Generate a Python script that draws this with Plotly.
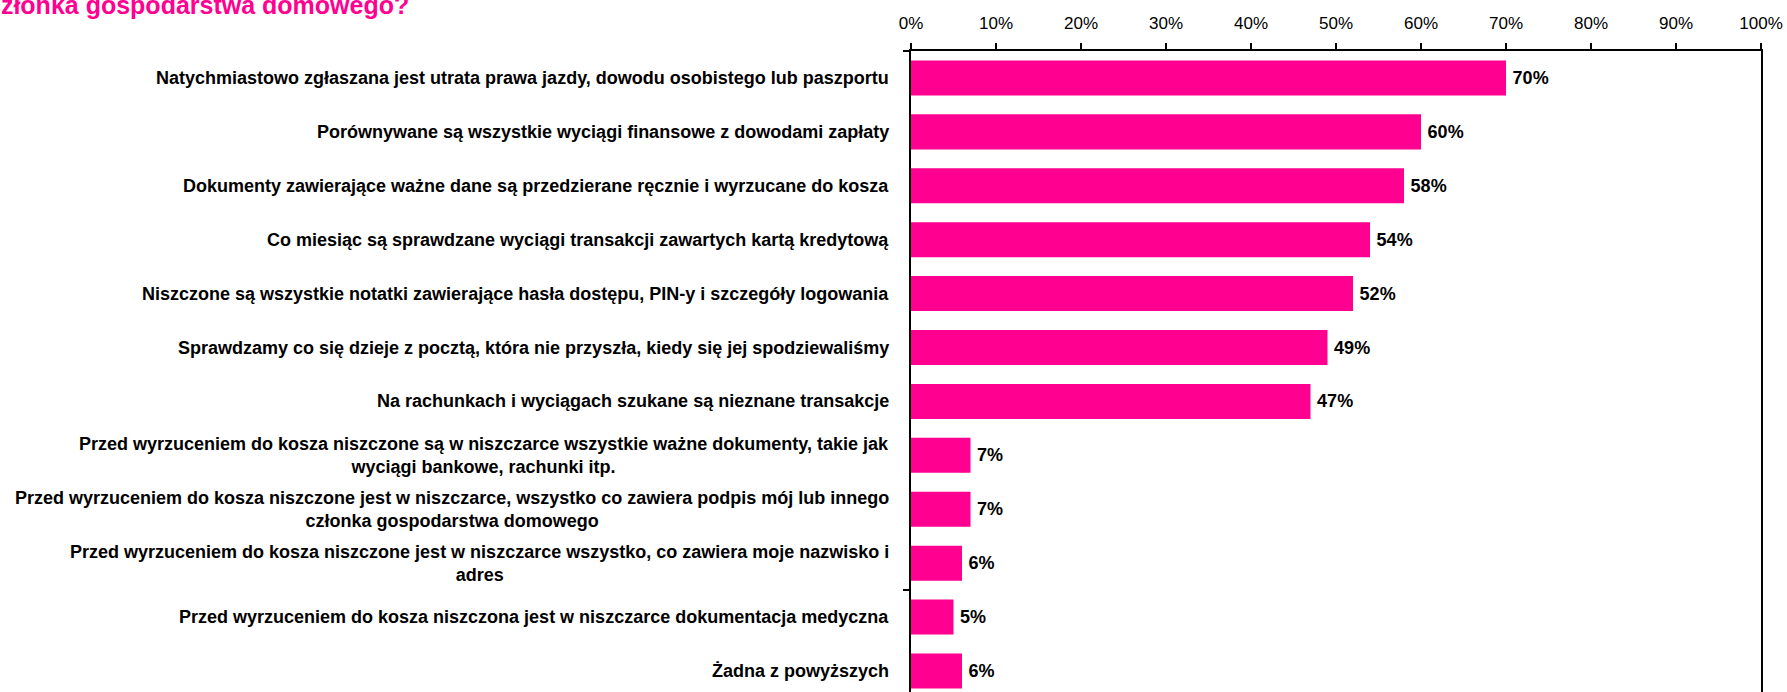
import plotly.graph_objects as go

categories = [
    "Natychmiastowo zgłaszana jest utrata prawa jazdy, dowodu osobistego lub paszportu",
    "Porównywane są wszystkie wyciągi finansowe z dowodami zapłaty",
    "Dokumenty zawierające ważne dane są przedzierane ręcznie i wyrzucane do kosza",
    "Co miesiąc są sprawdzane wyciągi transakcji zawartych kartą kredytową",
    "Niszczone są wszystkie notatki zawierające hasła dostępu, PIN-y i szczegóły logowania",
    "Sprawdzamy co się dzieje z pocztą, która nie przyszła, kiedy się jej spodziewaliśmy",
    "Na rachunkach i wyciągach szukane są nieznane transakcje",
    "Przed wyrzuceniem do kosza niszczone są w niszczarce wszystkie ważne dokumenty, takie jak<br>wyciągi bankowe, rachunki itp.",
    "Przed wyrzuceniem do kosza niszczone jest w niszczarce, wszystko co zawiera podpis mój lub innego<br>członka gospodarstwa domowego",
    "Przed wyrzuceniem do kosza niszczone jest w niszczarce wszystko, co zawiera moje nazwisko i<br>adres",
    "Przed wyrzuceniem do kosza niszczona jest w niszczarce dokumentacja medyczna",
    "Żadna z powyższych",
]
values = [70, 60, 58, 54, 52, 49, 47, 7, 7, 6, 5, 6]
value_labels = ["70%", "60%", "58%", "54%", "52%", "49%", "47%", "7%", "7%", "6%", "5%", "6%"]
x_ticks = [0, 10, 20, 30, 40, 50, 60, 70, 80, 90, 100]
x_tick_labels = ["0%", "10%", "20%", "30%", "40%", "50%", "60%", "70%", "80%", "90%", "100%"]
title_text = "członka gospodarstwa domowego?"

PINK = "#FF0090"
FONT = "Liberation Sans, Arial, sans-serif"

positions = list(range(len(categories)))

fig = go.Figure()
fig.add_trace(go.Bar(
    x=values,
    y=positions,
    orientation="h",
    marker=dict(color=PINK, line=dict(width=0)),
    width=0.65,
    text=value_labels,
    texttemplate="\u2009%{text}",
    textposition="outside",
    textfont=dict(family=FONT, size=18, color="#000000", weight="bold"),
    cliponaxis=False,
    hoverinfo="skip",
))

for i, cat in enumerate(categories):
    fig.add_annotation(
        x=0, y=i, xref="x", yref="y",
        text=cat, showarrow=False,
        xanchor="right", yanchor="middle", align="center",
        xshift=-20,
        font=dict(family=FONT, size=18, color="#000000", weight="bold"),
    )

fig.add_annotation(
    x=0, y=1, xref="paper", yref="paper",
    text=title_text, showarrow=False,
    xanchor="left", yanchor="bottom",
    xshift=-911 - 15, yshift=30,
    font=dict(family=FONT, size=25, color=PINK, weight="bold"),
)

fig.update_layout(
    width=1787, height=692,
    margin=dict(l=911, r=26, t=51, b=0, pad=0),
    paper_bgcolor="white", plot_bgcolor="white",
    showlegend=False,
    xaxis=dict(
        side="top", range=[0, 100],
        tickvals=x_ticks, ticktext=x_tick_labels,
        ticks="outside", ticklen=6, tickwidth=1.5, tickcolor="#000000",
        showline=True, linecolor="#000000", linewidth=2,
        showgrid=False, zeroline=False,
        tickfont=dict(family=FONT, size=17, color="#000000"),
        ticklabelstandoff=7,
        fixedrange=True,
    ),
    yaxis=dict(
        range=[11.39, -0.5],
        tickvals=[-0.5, 9.5], showticklabels=False,
        ticks="outside", ticklen=6, tickwidth=1.5, tickcolor="#000000",
        showline=True, linecolor="#000000", linewidth=2, mirror=True,
        showgrid=False, zeroline=False,
        fixedrange=True,
    ),
)

fig.write_html(
    "out.html",
    config={"displayModeBar": False, "staticPlot": True},
    post_script="document.body.style.margin='0';document.body.style.overflow='hidden';",
)
